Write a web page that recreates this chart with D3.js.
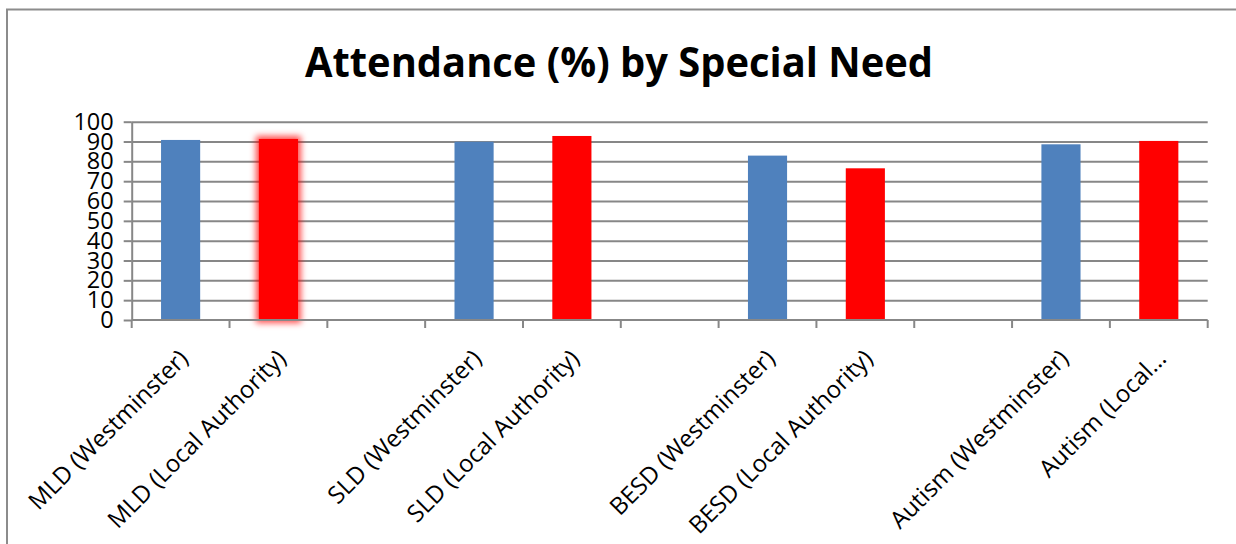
<!DOCTYPE html>
<html>
<head>
<meta charset="utf-8">
<script src="https://cdn.jsdelivr.net/npm/d3@7/dist/d3.min.js"></script>
<style>
  body { margin: 0; background: #fff; }
  svg { display: block; }
</style>
</head>
<body>
<svg id="chart" width="1236" height="544"></svg>
<script>
// Attendance (%) per special-need group, Westminster vs Local Authority.
// Empty slots keep the gap between need groups on the category axis.
const categories = [
  "MLD (Westminster)", "MLD (Local Authority)", "",
  "SLD (Westminster)", "SLD (Local Authority)", "",
  "BESD (Westminster)", "BESD (Local Authority)", "",
  "Autism (Westminster)", "Autism (Local…"
];
const series = [
  "Westminster", "Local Authority", null,
  "Westminster", "Local Authority", null,
  "Westminster", "Local Authority", null,
  "Westminster", "Local Authority"
];
const attendance = [90.8, 91.3, null, 89.9, 92.8, null, 82.9, 76.5, null, 88.6, 90.3];
const yTicks = [0, 10, 20, 30, 40, 50, 60, 70, 80, 90, 100];
const titleText = "Attendance (%) by Special Need";

const svg = d3.select("#chart");
const W = 1236, H = 544;
const margin = { left: 131.7, right: W - 1207.7, top: 121.7, bottom: H - 320 };

const x = d3.scaleBand()
  .domain(d3.range(categories.length))
  .range([margin.left, W - margin.right])
  .paddingInner(0.6)
  .paddingOuter(0.3);

const y = d3.scaleLinear()
  .domain([0, 100])
  .range([H - margin.bottom, margin.top]);

const colour = d3.scaleOrdinal()
  .domain(["Westminster", "Local Authority"])
  .range(["#4f81bd", "#ff0000"]);

const gridColour = "#878787";
const lineW = 2;

// soft red halo used on the highlighted bar
const defs = svg.append("defs");
const glow = defs.append("filter").attr("id", "glow")
  .attr("x", "-50%").attr("y", "-10%").attr("width", "200%").attr("height", "120%");
glow.append("feMorphology").attr("in", "SourceAlpha").attr("operator", "dilate").attr("radius", 2.5).attr("result", "thick");
glow.append("feGaussianBlur").attr("in", "thick").attr("stdDeviation", 3).attr("result", "blur");
glow.append("feFlood").attr("flood-color", "#ff0000").attr("flood-opacity", 0.7);
glow.append("feComposite").attr("in2", "blur").attr("operator", "in").attr("result", "halo");
const merge = glow.append("feMerge");
merge.append("feMergeNode").attr("in", "halo");
merge.append("feMergeNode").attr("in", "SourceGraphic");

// chart frame (top and left edges)
svg.append("path")
  .attr("d", `M7,${H} V9.5 H${W}`)
  .attr("fill", "none")
  .attr("stroke", "#8c8c8c")
  .attr("stroke-width", 2);

// title
svg.append("text")
  .attr("x", W / 2 + 1)
  .attr("y", 77)
  .attr("text-anchor", "middle")
  .attr("font-family", "'Open Sans', sans-serif")
  .attr("font-weight", 700)
  .attr("font-size", 42)
  .attr("textLength", 628)
  .attr("lengthAdjust", "spacingAndGlyphs")
  .attr("fill", "#000")
  .text(titleText);

// horizontal gridlines
const plotRight = W - margin.right;
svg.append("g")
  .attr("transform", `translate(${margin.left},0)`)
  .call(d3.axisLeft(y).tickValues(yTicks.filter(d => d > 0)).tickSize(-(plotRight - margin.left)).tickFormat(""))
  .call(g => g.select(".domain").remove())
  .call(g => g.selectAll("line").attr("stroke", gridColour).attr("stroke-width", lineW));

// y axis with tick marks and labels
svg.append("g")
  .attr("transform", `translate(${margin.left},0)`)
  .call(d3.axisLeft(y).tickValues(yTicks).tickSize(8).tickPadding(10).tickSizeOuter(0))
  .call(g => g.select(".domain").attr("stroke", gridColour).attr("stroke-width", lineW))
  .call(g => g.selectAll("line").attr("stroke", gridColour).attr("stroke-width", lineW))
  .call(g => g.selectAll("text")
    .attr("font-family", "'Open Sans', sans-serif")
    .attr("font-size", 23.5)
    .attr("fill", "#000"));

// bars
svg.append("g")
  .selectAll("rect")
  .data(attendance.map((v, i) => ({ i, v, s: series[i] })).filter(d => d.v != null))
  .join("rect")
  .attr("x", d => x(d.i))
  .attr("width", x.bandwidth())
  .attr("y", d => y(d.v))
  .attr("height", d => y(0) - y(d.v))
  .attr("fill", d => colour(d.s))
  .attr("filter", d => d.i === 1 ? "url(#glow)" : null);

// category axis: baseline and boundary ticks
const xAxis = svg.append("g");
xAxis.append("line")
  .attr("x1", margin.left).attr("x2", plotRight)
  .attr("y1", y(0)).attr("y2", y(0))
  .attr("stroke", gridColour).attr("stroke-width", lineW);
const boundaries = d3.range(categories.length + 1).map(i => x.range()[0] + i * x.step());
xAxis.selectAll(".bound")
  .data(boundaries)
  .join("line")
  .attr("class", "bound")
  .attr("x1", d => d).attr("x2", d => d)
  .attr("y1", y(0)).attr("y2", y(0) + 8)
  .attr("stroke", gridColour).attr("stroke-width", lineW);

// rotated category labels
xAxis.selectAll(".lab")
  .data(categories.map((c, i) => ({ c, i })).filter(d => d.c))
  .join("text")
  .attr("class", "lab")
  .attr("transform", d => `translate(${x(d.i) + x.bandwidth() / 2 + 9},${y(0) + 40}) rotate(-45)`)
  .attr("text-anchor", "end")
  .attr("font-family", "'Open Sans', sans-serif")
  .attr("font-size", 24)
  .attr("fill", "#000")
  .text(d => d.c);
</script>
</body>
</html>
